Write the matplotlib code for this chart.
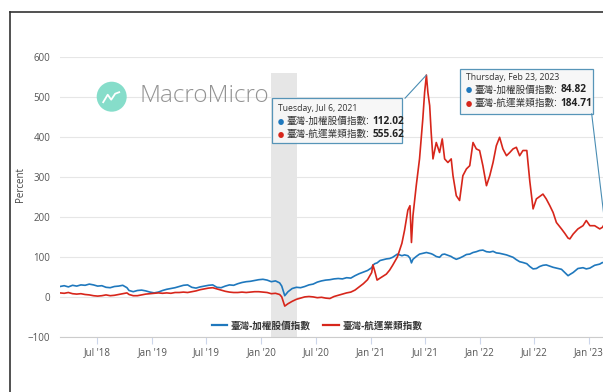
import pandas as pd
import matplotlib.pyplot as plt
import matplotlib.dates as mdates
from matplotlib.patches import Rectangle, Circle
from matplotlib.lines import Line2D
from matplotlib.offsetbox import TextArea, HPacker, VPacker, AnnotationBbox

plt.rcParams['font.family'] = ['Open Sans', 'Noto Sans CJK TC', 'DejaVu Sans']

# ---- data (percent change) ----
dates = [
    '2018-02-26', '2018-03-12', '2018-03-26', '2018-04-09', '2018-04-23', '2018-05-07',
    '2018-05-21', '2018-06-04', '2018-06-18', '2018-07-02', '2018-07-16', '2018-07-30',
    '2018-08-13', '2018-08-27', '2018-09-10', '2018-09-24', '2018-10-08', '2018-10-15',
    '2018-10-29', '2018-11-12', '2018-11-26', '2018-12-10', '2018-12-24',
    '2019-01-07', '2019-01-21', '2019-02-04', '2019-02-18', '2019-03-04', '2019-03-18',
    '2019-04-01', '2019-04-15', '2019-04-29', '2019-05-13', '2019-05-27', '2019-06-10',
    '2019-06-24', '2019-07-08', '2019-07-22', '2019-08-05', '2019-08-19', '2019-09-02',
    '2019-09-16', '2019-09-30', '2019-10-14', '2019-10-28', '2019-11-11', '2019-11-25',
    '2019-12-09', '2019-12-23',
    '2020-01-06', '2020-01-20', '2020-02-03', '2020-02-17', '2020-03-02', '2020-03-09',
    '2020-03-19', '2020-03-30', '2020-04-13', '2020-04-27', '2020-05-11', '2020-05-25',
    '2020-06-08', '2020-06-22', '2020-07-06', '2020-07-20', '2020-08-03', '2020-08-17',
    '2020-08-31', '2020-09-14', '2020-09-28', '2020-10-12', '2020-10-26', '2020-11-09',
    '2020-11-23', '2020-12-07', '2020-12-21',
    '2021-01-04', '2021-01-08', '2021-01-14', '2021-01-22', '2021-02-01', '2021-02-22',
    '2021-03-05', '2021-03-15', '2021-03-31', '2021-04-15', '2021-04-24', '2021-05-05',
    '2021-05-12', '2021-05-17', '2021-05-22', '2021-06-02', '2021-06-13', '2021-06-24',
    '2021-06-30', '2021-07-06', '2021-07-11', '2021-07-17', '2021-07-22', '2021-07-28',
    '2021-08-08', '2021-08-19', '2021-08-28', '2021-09-05', '2021-09-16', '2021-09-27',
    '2021-10-03', '2021-10-14', '2021-10-25', '2021-11-05', '2021-11-17', '2021-11-28',
    '2021-12-09', '2021-12-20', '2021-12-31',
    '2022-01-11', '2022-01-23', '2022-02-03', '2022-02-14', '2022-02-25', '2022-03-08',
    '2022-03-19', '2022-03-31', '2022-04-11', '2022-04-22', '2022-05-03', '2022-05-14',
    '2022-05-25', '2022-06-07', '2022-06-17', '2022-06-28', '2022-07-09', '2022-07-20',
    '2022-07-31', '2022-08-11', '2022-08-23', '2022-09-03', '2022-09-14', '2022-10-01',
    '2022-10-12', '2022-10-23', '2022-10-29', '2022-11-09', '2022-11-25', '2022-12-12',
    '2022-12-23',
    '2023-01-04', '2023-01-20', '2023-02-06', '2023-02-15', '2023-02-23',
]

taiex = [
    27, 29, 26, 30, 28, 31, 30, 33, 31, 28, 29, 25,
    24, 27, 28, 30, 24, 17, 14, 17, 18, 16, 13,
    11, 13, 17, 20, 22, 24, 27, 30, 31, 25, 23, 26,
    28, 30, 31, 25, 24, 28, 31, 30, 34, 37, 39, 40,
    42, 44,
    45, 43, 39, 41, 36, 28, 4, 14, 22, 25, 24, 27,
    31, 33, 38, 41, 43, 44, 46, 47, 46, 49, 48, 54,
    59, 63, 67,
    74, 80, 84, 86, 92, 96, 97, 100, 108, 104, 106, 104,
    98, 86, 95, 102, 108, 110, 111, 112.02, 111, 110, 109, 107,
    102, 100, 107, 108, 105, 102, 99, 95, 98, 102, 107, 108,
    112, 114, 117,
    118, 114, 113, 115, 111, 110, 108, 106, 103, 100, 94, 89,
    87, 84, 77, 71, 72, 77, 80, 81, 78, 75, 73, 70,
    62, 54, 57, 62, 72, 74, 71,
    73, 80, 83, 87, 84.82,
]

shipping = [
    11, 10, 12, 9, 8, 9, 7, 6, 4, 3, 4, 6,
    4, 5, 7, 9, 11, 7, 4, 4, 6, 8, 9,
    10, 11, 10, 11, 10, 12, 12, 13, 12, 14, 16, 19,
    21, 23, 24, 21, 18, 15, 13, 12, 12, 13, 12, 13,
    14, 14,
    13, 12, 9, 10, 7, 1, -22, -16, -10, -5, -2, 1,
    2, 1, -1, 0, -2, -3, 2, 5, 8, 11, 13, 18,
    26, 34, 44,
    62, 81, 66, 43, 48, 58, 68, 80, 101, 135, 168, 218,
    229, 137, 204, 279, 346, 446, 512, 555.62, 512, 479, 412, 346,
    387, 362, 396, 346, 337, 346, 304, 254, 242, 304, 321, 329,
    387, 371, 367,
    329, 279, 304, 337, 379, 400, 371, 354, 362, 371, 375, 354,
    367, 367, 290, 221, 246, 252, 258, 246, 229, 212, 187, 171,
    160, 148, 146, 158, 171, 179, 192,
    179, 179, 171, 175, 184.71,
]

series_names = ['臺灣-加權股價指數', '臺灣-航運業類指數']
series_colors = ['#1f78bd', '#d7261b']
band_start, band_end = '2020-02-03', '2020-04-30'
tip1_date, tip1_text = '2021-07-06', 'Tuesday, Jul 6, 2021'
tip2_date, tip2_text = '2023-02-23', 'Thursday, Feb 23, 2023'

x = pd.to_datetime(dates)
df = pd.DataFrame({'taiex': taiex, 'shipping': shipping}, index=x)

W, H = 603, 392
fig = plt.figure(figsize=(W / 100, H / 100), dpi=100)
ax = fig.add_axes([60 / W, (H - 337.3) / H, 549.3 / W, 280 / H])

ax.axvspan(pd.Timestamp(band_start), pd.Timestamp(band_end), ymin=0, ymax=660 / 700,
           color='#e6e6e6', lw=0, zorder=0)
ax.plot(df.index, df['taiex'], color=series_colors[0], lw=1.2, label=series_names[0], zorder=3)
ax.plot(df.index, df['shipping'], color=series_colors[1], lw=1.2, label=series_names[1], zorder=3)

ax.set_xlim(pd.Timestamp('2018-02-26'), pd.Timestamp('2023-03-10'))
ax.set_ylim(-100, 600)
ax.set_yticks(range(-100, 700, 100))
ax.yaxis.grid(True, color='#e6e6e6', lw=0.8)
ax.set_axisbelow(True)
for s in ['top', 'right', 'left']:
    ax.spines[s].set_visible(False)
ax.spines['bottom'].set_color('#cccccc')
ax.spines['bottom'].set_linewidth(0.8)

ax.xaxis.set_major_locator(mdates.MonthLocator(bymonth=[1, 7]))
ax.xaxis.set_major_formatter(mdates.DateFormatter("%b '%y"))
ax.tick_params(axis='x', length=5, color='#ccd6eb', labelsize=7, labelcolor='#555555', pad=2)
ax.tick_params(axis='y', length=0, labelsize=7, labelcolor='#555555', pad=7)

fig.text(20 / W, 1 - 184 / H, 'Percent', rotation=90, ha='center', va='center',
         fontsize=7, color='#444444')

leg = ax.legend(loc='center', bbox_to_anchor=(0.468, 0.04), ncol=2, frameon=False,
                prop={'weight': 'bold', 'size': 6.9}, handlelength=1.6,
                handletextpad=0.4, columnspacing=1.3)
for t in leg.get_texts():
    t.set_color('#333333')
for h in leg.get_lines():
    h.set_linewidth(1.6)


def tooltip(box, text_xy, title, values, tip_date, tip_value, corner):
    x0, y0, x1, y1 = box
    ax.add_patch(Rectangle((x0, y0), x1 - x0, y1 - y0, transform=ax.transAxes,
                           facecolor='#f7f7f7', edgecolor='#4a8db3', lw=0.9,
                           alpha=0.93, clip_on=False, zorder=6))
    ax.annotate('', xy=(pd.Timestamp(tip_date), tip_value), xycoords='data',
                xytext=corner, textcoords='axes fraction',
                arrowprops=dict(arrowstyle='-', color='#4a8db3', lw=0.8,
                                shrinkA=0, shrinkB=0), zorder=6, annotation_clip=False)
    rows = [TextArea(title, textprops=dict(fontsize=6.2, color='#333333'))]
    for name, color, val in zip(series_names, series_colors, values):
        rows.append(HPacker(children=[
            TextArea('●', textprops=dict(fontsize=4.5, color=color)),
            TextArea(name + ':', textprops=dict(fontsize=6.9, color='#333333')),
            TextArea(val, textprops=dict(fontsize=7.3, color='#222222', weight='bold')),
        ], align='baseline', pad=0, sep=2))
    pack = VPacker(children=rows, align='left', pad=0, sep=1.8)
    ab = AnnotationBbox(pack, text_xy, xycoords='axes fraction', box_alignment=(0, 0.5),
                        frameon=False, pad=0, zorder=7, annotation_clip=False)
    ax.add_artist(ab)


tooltip((0.3854, 0.6929, 0.6232, 0.8536), (0.3965, 0.768), tip1_text,
        [f'{taiex[dates.index(tip1_date)]:.2f}', f'{shipping[dates.index(tip1_date)]:.2f}'],
        tip1_date, shipping[dates.index(tip1_date)], (0.628, 0.8536))
tooltip((0.7282, 0.7986, 0.9709, 0.9593), (0.7386, 0.880), tip2_text,
        [f'{taiex[dates.index(tip2_date)]:.2f}', f'{shipping[dates.index(tip2_date)]:.2f}'],
        tip2_date, shipping[dates.index(tip2_date)], (0.9679, 0.7986))

# watermark
cx, cy = 111.7 / 100, (H - 96.7) / 100
fig.add_artist(Circle((cx, cy), 0.15, transform=fig.dpi_scale_trans,
                      facecolor='#80dcc8', edgecolor='none', alpha=0.95))
icon_x = [cx - 0.085, cx - 0.04, cx - 0.005, cx + 0.035, cx + 0.075]
icon_y = [cy - 0.055, cy + 0.02, cy - 0.03, cy + 0.03, cy + 0.045]
fig.add_artist(Line2D(icon_x, icon_y, transform=fig.dpi_scale_trans, color='white', lw=1.3))
fig.text(139 / W, 1 - 96 / H, 'MacroMicro', ha='left', va='center', fontsize=17.5,
         color='#939393', family='Open Sans', weight='light')

# screenshot frame
fig.add_artist(Line2D([10 / W, 1], [1 - 12 / H, 1 - 12 / H], color='#333333', lw=1.2))
fig.add_artist(Line2D([10 / W, 10 / W], [0, 1 - 12 / H], color='#333333', lw=1.2))

fig.savefig('out.png', dpi=100)
